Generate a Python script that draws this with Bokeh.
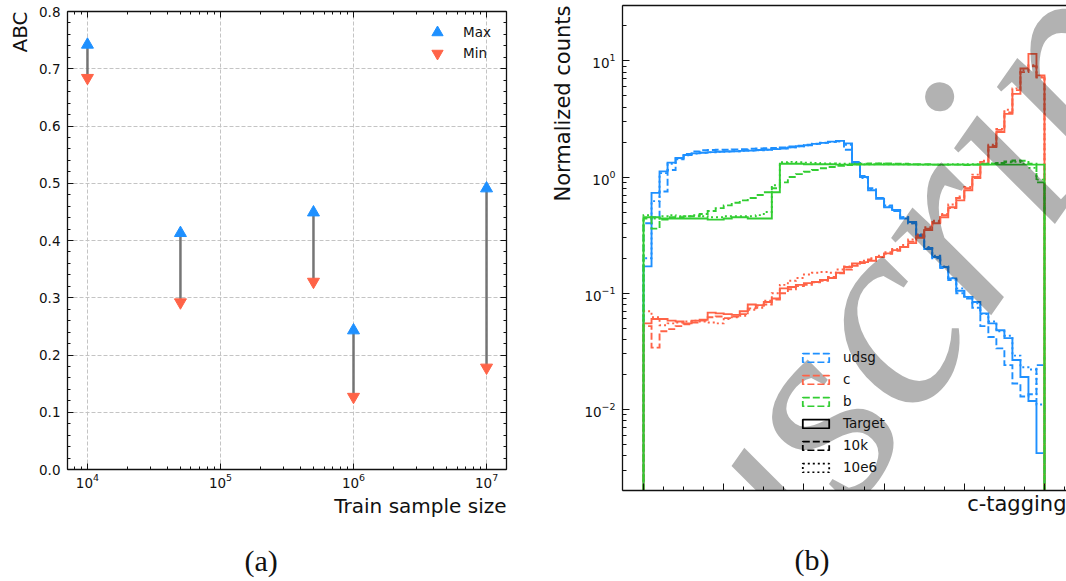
import math

from bokeh.embed import file_html
from bokeh.layouts import row
from bokeh.models import (ColumnDataSource, CustomJSTickFormatter, FixedTicker, Label, Legend,
                          LegendItem, LinearAxis, LogAxis, Plot, PrintfTickFormatter, Title)
from bokeh.plotting import figure
from bokeh.resources import INLINE

# ---------------- panel (a): ABC range per training-sample size ----------------
train_sizes = [1e4, 5e4, 5e5, 1e6, 1e7]
abc_max = [0.742, 0.413, 0.449, 0.243, 0.491]
abc_min = [0.684, 0.292, 0.328, 0.127, 0.178]

# ---------------- panel (b): c-tagging score histograms ----------------
bin_edges = [round(0.02 * i, 2) for i in range(51)]

udsg_target = [0.17, 0.73, 1.12, 1.33, 1.46, 1.55, 1.60, 1.62, 1.64, 1.65,
               1.66, 1.67, 1.68, 1.69, 1.71, 1.72, 1.74, 1.76, 1.80, 1.84,
               1.88, 1.93, 1.97, 2.02, 2.05, 1.95, 1.32, 1.00, 0.77, 0.65,
               0.55, 0.52, 0.44, 0.41, 0.315, 0.24, 0.205, 0.168, 0.134, 0.105,
               0.093, 0.084, 0.067, 0.055, 0.048, 0.041, 0.0266, 0.019, 0.0118, 0.0042]
udsg_10k = [0.40, 0.45, 0.75, 1.15, 1.42, 1.58, 1.66, 1.70, 1.71, 1.72,
            1.72, 1.73, 1.74, 1.75, 1.76, 1.77, 1.78, 1.80, 1.83, 1.86,
            1.90, 1.94, 1.98, 2.01, 2.03, 1.72, 1.35, 1.02, 0.80, 0.66,
            0.57, 0.51, 0.45, 0.40, 0.31, 0.245, 0.20, 0.165, 0.13, 0.10,
            0.090, 0.075, 0.052, 0.042, 0.0335, 0.024, 0.0167, 0.0129, 0.0135, 0.024]
udsg_10e6 = [0.20, 0.62, 1.08, 1.30, 1.45, 1.54, 1.59, 1.62, 1.63, 1.65,
             1.66, 1.67, 1.68, 1.69, 1.70, 1.72, 1.74, 1.77, 1.80, 1.84,
             1.88, 1.92, 1.97, 2.01, 2.03, 1.90, 1.30, 0.98, 0.78, 0.66,
             0.56, 0.51, 0.45, 0.40, 0.32, 0.25, 0.21, 0.17, 0.135, 0.11,
             0.092, 0.082, 0.066, 0.057, 0.047, 0.043, 0.029, 0.023, 0.022, 0.011]

c_target = [0.055, 0.060, 0.060, 0.058, 0.057, 0.055, 0.058, 0.059, 0.068, 0.067,
            0.066, 0.065, 0.070, 0.080, 0.079, 0.084, 0.090, 0.110, 0.113, 0.118,
            0.122, 0.125, 0.130, 0.135, 0.150, 0.168, 0.180, 0.185, 0.190, 0.205,
            0.220, 0.235, 0.250, 0.270, 0.300, 0.350, 0.400, 0.450, 0.550, 0.630,
            0.770, 1.00, 1.30, 1.81, 2.44, 3.50, 5.20, 8.60, 11.5, 7.50]
c_10k = [0.052, 0.034, 0.047, 0.049, 0.052, 0.054, 0.056, 0.058, 0.062, 0.063,
         0.061, 0.063, 0.066, 0.074, 0.078, 0.080, 0.088, 0.100, 0.108, 0.115,
         0.118, 0.124, 0.128, 0.138, 0.148, 0.160, 0.172, 0.182, 0.195, 0.205,
         0.218, 0.232, 0.250, 0.278, 0.310, 0.360, 0.410, 0.470, 0.540, 0.660,
         0.800, 0.980, 1.35, 1.85, 2.55, 3.60, 5.60, 8.00, 9.00, 7.20]
c_10e6 = [0.070, 0.062, 0.053, 0.055, 0.056, 0.057, 0.058, 0.057, 0.056, 0.055,
          0.060, 0.062, 0.064, 0.072, 0.075, 0.086, 0.100, 0.118, 0.128, 0.135,
          0.145, 0.150, 0.152, 0.150, 0.160, 0.170, 0.178, 0.190, 0.200, 0.210,
          0.225, 0.240, 0.260, 0.290, 0.320, 0.370, 0.420, 0.480, 0.580, 0.680,
          0.820, 1.05, 1.38, 1.90, 2.60, 3.80, 5.80, 8.30, 9.20, 7.30]

b_target = [0.45, 0.45, 0.44, 0.44, 0.44, 0.44, 0.44, 0.44, 0.43, 0.43,
            0.44, 0.45, 0.45, 0.44, 0.44, 0.44, 0.74, 1.30, 1.30, 1.30,
            1.29, 1.29, 1.29, 1.29, 1.28, 1.28, 1.28, 1.28, 1.28, 1.28,
            1.28, 1.28, 1.28, 1.28, 1.28, 1.28, 1.28, 1.28, 1.28, 1.28,
            1.28, 1.28, 1.28, 1.28, 1.28, 1.28, 1.28, 1.28, 1.28, 1.28]
b_10k = [0.44, 0.36, 0.43, 0.45, 0.45, 0.46, 0.46, 0.48, 0.51, 0.54,
         0.57, 0.60, 0.63, 0.66, 0.70, 0.74, 0.80, 0.90, 1.00, 1.06,
         1.11, 1.15, 1.19, 1.22, 1.25, 1.27, 1.29, 1.30, 1.31, 1.31,
         1.31, 1.30, 1.30, 1.29, 1.29, 1.29, 1.28, 1.28, 1.28, 1.28,
         1.27, 1.28, 1.29, 1.30, 1.32, 1.36, 1.39, 1.38, 1.30, 0.90]
b_10e6 = [0.47, 0.44, 0.46, 0.47, 0.46, 0.46, 0.47, 0.46, 0.45, 0.45,
          0.46, 0.46, 0.46, 0.46, 0.47, 0.50, 0.85, 1.34, 1.35, 1.34,
          1.33, 1.32, 1.31, 1.31, 1.30, 1.30, 1.30, 1.29, 1.29, 1.30,
          1.29, 1.29, 1.29, 1.29, 1.28, 1.28, 1.28, 1.28, 1.29, 1.29,
          1.29, 1.29, 1.30, 1.31, 1.32, 1.34, 1.35, 1.30, 1.20, 0.95]

flavours = ["udsg", "c", "b"]
sample_labels = ["Target", "10k", "10e6"]

# ---------------- styling ----------------
SANS = "DejaVu Sans"
SERIF = "Liberation Serif"
INK = "#111111"
BLUE, RED, GREEN = "#1e90ff", "#ff6347", "#32cd32"
flavour_colors = {"udsg": BLUE, "c": RED, "b": GREEN}
sample_dashes = {"Target": "solid", "10k": "7 3", "10e6": "2 3"}
blank = CustomJSTickFormatter(code="return '';")
HAS_FRAME_ALIGN = "frame_align" in Plot.properties()


def style_axis(ax, major, minor):
    ax.major_tick_in = major
    ax.major_tick_out = 0
    ax.minor_tick_in = minor
    ax.minor_tick_out = 0
    ax.axis_line_color = INK
    ax.axis_line_width = 1.3
    ax.major_tick_line_color = INK
    ax.minor_tick_line_color = INK
    ax.major_label_text_font = SANS
    ax.major_label_text_font_size = "13.5px"
    ax.major_label_text_color = INK
    ax.major_label_standoff = 7


def silent_axis(ax):
    """Axis that only contributes its line/ticks (no tick labels)."""
    ax.formatter = blank
    ax.major_label_text_font_size = "1px"
    ax.major_label_standoff = 0


def spacer_axis(tick_at, height):
    """Invisible axis that only reserves vertical room below the plot."""
    return LinearAxis(ticker=FixedTicker(ticks=[tick_at]), axis_line_color=None,
                      major_tick_in=0, major_tick_out=height, minor_tick_in=0, minor_tick_out=0,
                      major_tick_line_color=None, minor_tick_line_color=None,
                      major_label_standoff=0, major_label_text_font_size="1px", formatter=blank)


def axis_title(text, size, vertical_align, standoff):
    return Title(text=text, align="right", offset=0, vertical_align=vertical_align,
                 standoff=standoff, text_font=SANS, text_font_size=size,
                 text_font_style="normal", text_color=INK)


def caption(text, offset):
    return Title(text=text, align="left", offset=offset, vertical_align="top", standoff=0,
                 text_font=SERIF, text_font_size="30px", text_font_style="normal",
                 text_color=INK)


def new_figure(**kw):
    if HAS_FRAME_ALIGN:
        kw["frame_align"] = False
    return figure(output_backend="svg", toolbar_location=None, **kw)


# ======================= panel (a) =======================
pa = new_figure(width=540, height=581, x_axis_type="log",
                x_range=(10 ** 3.85, 10 ** 7.15), y_range=(0, 0.8),
                min_border_left=65, min_border_right=34, min_border_top=11, min_border_bottom=112)
pa.outline_line_color = None

xa_ticker = FixedTicker(ticks=[1e4, 1e5, 1e6, 1e7],
                        minor_ticks=[m * 10 ** k for k in range(3, 7) for m in range(2, 10)])
ya_ticker = FixedTicker(ticks=[0.0, 0.1, 0.2, 0.3, 0.4, 0.5, 0.6, 0.7, 0.8],
                        minor_ticks=[round(0.02 * i, 2) for i in range(41)])

xa_bottom = pa.below[0]
ya_left = pa.left[0]
xa_bottom.ticker = xa_ticker
ya_left.ticker = ya_ticker
ya_left.formatter = PrintfTickFormatter(format="%.1f")
xa_top = LogAxis(ticker=xa_ticker)
ya_right = LinearAxis(ticker=ya_ticker)
pa.add_layout(xa_top, "above")
pa.add_layout(ya_right, "right")
for ax in (xa_bottom, ya_left, xa_top, ya_right):
    style_axis(ax, 6, 3)
silent_axis(xa_top)
silent_axis(ya_right)
xa_bottom.major_label_standoff = 3

pa.add_layout(axis_title("ABC", "20px", "bottom", 10), "left")
pa.add_layout(axis_title("Train sample size", "20px", "top", 6), "below")
pa.add_layout(spacer_axis(1e5, 21), "below")
pa.add_layout(caption("(a)", 177), "below")

pa.xgrid.ticker = xa_ticker
pa.ygrid.ticker = ya_ticker
for g in (pa.xgrid, pa.ygrid):
    g.grid_line_color = "#c4c4c4"
    g.grid_line_dash = "4 2"
    g.grid_line_width = 1

src_a = ColumnDataSource(dict(n=train_sizes, hi=abc_max, lo=abc_min))
pa.segment(x0="n", y0="hi", x1="n", y1="lo", source=src_a,
           line_color="#6e6e6e", line_width=2.5, line_alpha=0.95)
r_max = pa.scatter("n", "hi", source=src_a, marker="triangle", size=12,
                   fill_color=BLUE, line_color=BLUE)
r_min = pa.scatter("n", "lo", source=src_a, marker="inverted_triangle", size=12,
                   fill_color=RED, line_color=RED)

for lbl, rend, ypos in (("Max", r_max, 423), ("Min", r_min, 402)):
    pa.add_layout(Legend(items=[LegendItem(label=lbl, renderers=[rend])],
                         location=(356, ypos), glyph_width=28, glyph_height=28,
                         padding=0, margin=0, label_standoff=12,
                         label_text_font=SANS, label_text_font_size="13.5px",
                         label_text_color=INK, border_line_alpha=0, background_fill_alpha=0))

# ======================= panel (b) =======================
pb = new_figure(width=526, height=581, y_axis_type="log",
                x_range=(-0.0524, 1.0549), y_range=(0.002, 30),
                min_border_left=82, min_border_right=0, min_border_top=5, min_border_bottom=91)
pb.outline_line_color = None
pb.grid.visible = False

xb_ticker = FixedTicker(ticks=[0.0, 0.2, 0.4, 0.6, 0.8, 1.0],
                        minor_ticks=[round(0.05 * i, 2) for i in range(22)])
yb_ticker = FixedTicker(ticks=[0.01, 0.1, 1.0, 10.0],
                        minor_ticks=[m * 10.0 ** k for k in range(-3, 2) for m in range(2, 10)])
xb_bottom = pb.below[0]
yb_left = pb.left[0]
xb_bottom.ticker = xb_ticker
yb_left.ticker = yb_ticker
xb_top = LinearAxis(ticker=xb_ticker)
pb.add_layout(xb_top, "above")
for ax in (xb_bottom, yb_left, xb_top):
    style_axis(ax, 7, 4)
silent_axis(xb_bottom)
silent_axis(xb_top)
xb_top.major_tick_in = 0
xb_top.minor_tick_in = 0

pb.add_layout(axis_title("Normalized counts", "21px", "bottom", 14), "left")
pb.add_layout(axis_title("c-tagging", "21px", "top", 2), "below")
pb.add_layout(spacer_axis(0.5, 24), "below")
pb.add_layout(caption("(b)", 172), "below")

FLOOR = 1e-4  # histogram baseline, below the visible range


def step_outline(edges, counts):
    xs, ys = [edges[0]], [FLOOR]
    for i, c in enumerate(counts):
        xs += [edges[i], edges[i + 1]]
        ys += [c, c]
    xs.append(edges[-1])
    ys.append(FLOOR)
    return xs, ys


hists = {
    ("udsg", "Target"): udsg_target, ("udsg", "10k"): udsg_10k, ("udsg", "10e6"): udsg_10e6,
    ("c", "Target"): c_target, ("c", "10k"): c_10k, ("c", "10e6"): c_10e6,
    ("b", "Target"): b_target, ("b", "10k"): b_10k, ("b", "10e6"): b_10e6,
}
for fl in flavours:
    for sl in ["10k", "10e6", "Target"]:
        xs, ys = step_outline(bin_edges, hists[(fl, sl)])
        pb.line(xs, ys, line_color=flavour_colors[fl], line_width=1.9,
                line_dash=sample_dashes[sl], line_join="miter")

# "Accepted Manuscript" stamp laid diagonally over the panel
pb.add_layout(Label(x=514, y=545, x_units="screen", y_units="screen",
                    text="Accepted Manuscript", angle=math.radians(55),
                    text_align="right", text_baseline="alphabetic",
                    text_font=SERIF, text_font_style="italic", text_font_size="275px",
                    text_color="black", text_alpha=0.3))

# legend keys: outlined boxes for the flavours and the sample sizes (not drawn on the axes)
NAN = float("nan")
key_items = []
for fl in flavours:
    r = pb.quad(left=[NAN], right=[NAN], top=[NAN], bottom=[NAN], fill_color=None,
                line_color=flavour_colors[fl], line_dash="7 3", line_width=1.8)
    key_items.append(LegendItem(label=fl, renderers=[r]))
for sl in sample_labels:
    r = pb.quad(left=[NAN], right=[NAN], top=[NAN], bottom=[NAN], fill_color=None,
                line_color="black", line_dash=sample_dashes[sl], line_width=1.8)
    key_items.append(LegendItem(label=sl, renderers=[r]))
pb.add_layout(Legend(items=key_items, location=(177, 15), glyph_width=33, glyph_height=11,
                     label_height=11, spacing=6, padding=0, margin=0, label_standoff=11,
                     label_text_font=SANS, label_text_font_size="13.5px", label_text_color=INK,
                     border_line_alpha=0, background_fill_alpha=0))

layout = row(pa, pb)
open("out.html", "w").write(file_html(layout, INLINE))
